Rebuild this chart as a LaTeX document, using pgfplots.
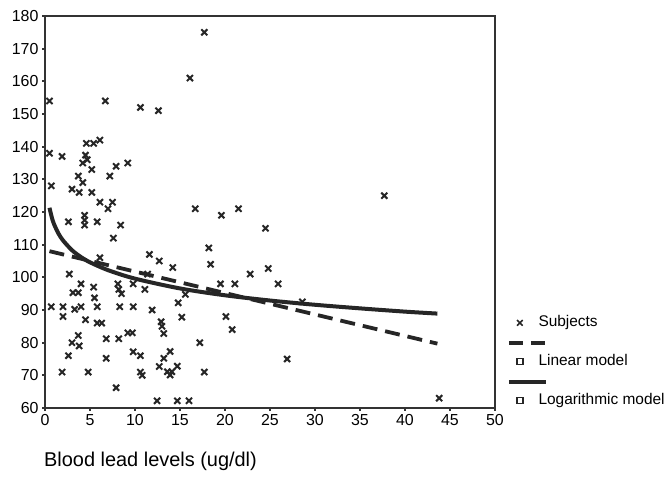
\documentclass[border=0pt]{standalone}
\usepackage{pgfplots}
\pgfplotsset{compat=1.18}
\usepackage{fontspec}
\setmainfont{Liberation Sans}

\begin{document}
\begin{tikzpicture}
\begin{axis}[
  width=450bp, height=392bp, scale only axis,
  xmin=0, xmax=50, ymin=60, ymax=180,
  xtick={0,5,...,50}, ytick={60,70,...,180},
  tick pos=left, tick align=outside,
  major tick length=3bp,
  tick style={line width=1.8bp, black!80},
  axis line style={line width=1.3bp, black!80},
  tick label style={font=\fontsize{16}{16}\selectfont},
  /pgf/number format/assume math mode=true,
  xlabel={Blood lead levels (ug/dl)},
  xlabel style={font=\fontsize{20}{20}\selectfont, inner sep=0pt,
    at={(axis description cs:0,0)}, anchor=north west, yshift=-44bp, xshift=-1bp},
  legend style={draw=none, fill=none, inner sep=0pt,
    at={(axis description cs:1,0)}, anchor=south west, xshift=21bp, yshift=0bp,
    row sep=25bp, column sep=15bp,
    font=\fontsize{15.5}{15.5}\selectfont,
    nodes={inner sep=0pt, text height=11bp, text depth=3bp}},
  legend cell align=left,
]
\coordinate (O) at (rel axis cs:0,0);
% subjects
\addplot[only marks, mark=x, mark size=4.3bp, mark options={line width=2bp}, black!85,
  legend image code/.code={\path[draw=none, fill=none] (-3bp,-3bp) rectangle (3bp,3bp);
    \draw[solid, line width=1.6bp, black!85] (-2.8bp,-2.8bp) -- (2.8bp,2.8bp) (-2.8bp,2.8bp) -- (2.8bp,-2.8bp);}]
coordinates {
(0.5,154)(6.7,154)(10.6,152)(12.6,151)(16.1,161)(17.7,175)
(0.5,138)(1.9,137)(4.6,141)(5.4,141)(6.1,142)
(4.5,137.4)(4.7,136)(4.2,135)(5.2,133)(7.9,134)(9.2,135)
(7.2,131)(3.7,131)(4.2,129)(0.7,128)(3.0,127)(3.8,126)(5.2,126)
(6.1,123)(7.5,123)(7.0,121)
(2.6,117)(4.4,119)(4.4,117.5)(4.4,116)(5.8,117)(8.4,116)(7.6,112)
(16.7,121)(19.6,119)(21.5,121)(24.5,115)(37.7,125)
(18.2,109)(18.4,104)(11.6,107)(12.7,105)(14.2,103)(6.1,106)(11.4,101)
(22.8,101)(24.8,102.7)(19.5,98)(21.1,98)(25.9,98)(28.6,92.5)
(20.1,88)(20.8,84)(26.9,75)(17.2,80)(17.7,71)(43.8,63)
(2.7,101)(4.0,98)(3.1,95.3)(3.7,95.3)(5.4,97)(5.5,93.7)
(0.7,91)(2.0,91)(3.3,90.2)(4.0,91)(5.8,91)(2.0,88)(4.5,87)(5.8,86)(6.3,86)
(8.1,98)(8.2,96.3)(8.5,95)(8.3,91)(9.8,98)(9.8,91)(11.1,96.3)(11.9,90)
(14.8,92.2)(15.6,94.8)(15.2,87.8)
(3.7,82.2)(3.0,80)(3.8,79)(2.6,76)(1.9,71)(4.8,71)
(6.8,81.2)(6.8,75.2)(8.2,81.2)(9.2,83)(9.7,83)(9.8,77.2)(10.6,76)(10.6,71)(10.8,70)(7.9,66.2)
(12.9,86.4)(13.0,85)(13.2,82.8)(13.9,77.3)(13.2,75.2)(12.7,72.7)
(13.6,71.1)(13.9,70.1)(14.1,71.1)(14.7,72.8)
(12.45,62.2)(14.7,62.2)(16.0,62.2)
};
\addlegendentry{Subjects}
% linear model
\addplot[line width=3.8bp, black!85, dash pattern=on 15bp off 8bp,
  legend image code/.code={\path[draw=none, fill=none] (-3bp,-3bp) rectangle (3bp,3bp);
    \draw[overlay, line width=3.8bp, black!85, dash pattern=on 14bp off 8bp] (-11bp,19bp) -- (26bp,19bp);
    \draw[solid, line width=1.3bp, black!85, fill=white] (-3bp,-3bp) rectangle (3bp,3bp);}]
coordinates {(0.5,108.0)(43.6,79.7)};
\addlegendentry{Linear model}
% logarithmic model
\addplot[line width=4bp, black!85, smooth,
  legend image code/.code={\path[draw=none, fill=none] (-3bp,-3bp) rectangle (3bp,3bp);
    \draw[overlay, line width=4bp, black!85] (-11bp,19bp) -- (26bp,19bp);
    \draw[solid, line width=1.3bp, black!85, fill=white] (-3bp,-3bp) rectangle (3bp,3bp);}]
coordinates {(0.5,121.3)(0.75,118.4)(1,116.3)(1.5,113.4)(2,111.3)(3,108.3)(4,106.2)
(5,104.6)(7,102.2)(10,99.6)(15,96.6)(20,94.5)(25,92.9)(30,91.6)(35,90.5)(40,89.5)(43.6,88.9)};
\addlegendentry{Logarithmic model}
\end{axis}
\path (O) ++(-45bp,-76bp) rectangle ++(666bp,484bp);
\end{tikzpicture}
\end{document}
